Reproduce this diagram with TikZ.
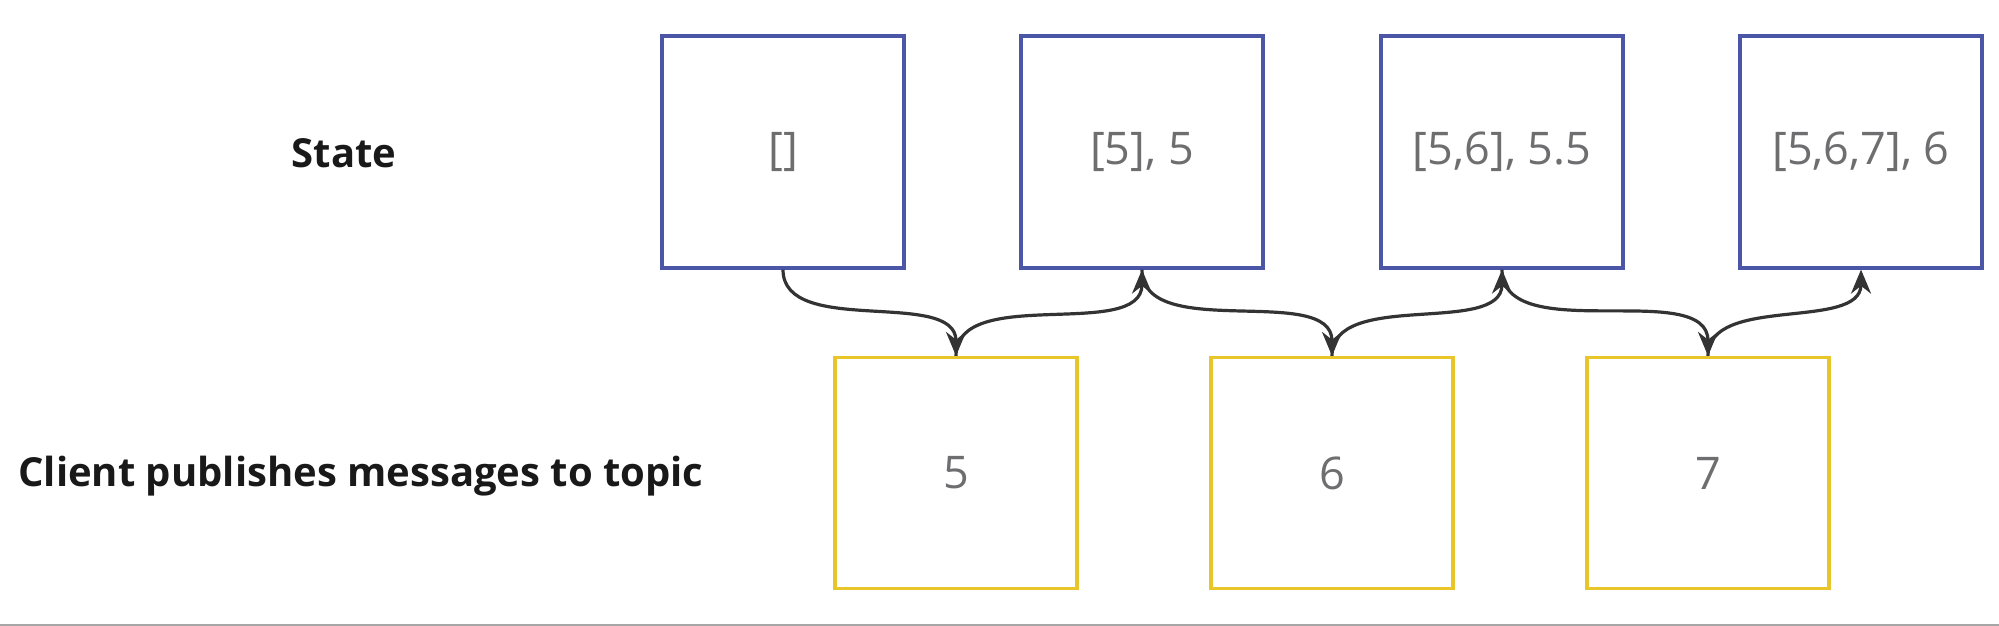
\documentclass[tikz,border=0pt]{standalone}
\usepackage{fontspec}
\setmainfont{Open Sans}
\usetikzlibrary{arrows.meta}
\definecolor{bluebox}{HTML}{4C56A6}
\definecolor{yelbox}{HTML}{E8C62A}
\definecolor{txt}{HTML}{6E6E70}
\definecolor{arr}{HTML}{333333}
\begin{document}
\begin{tikzpicture}[x=1pt,y=-1pt,
  sbox/.style={draw=bluebox,line width=3.2pt,minimum width=242pt,minimum height=232pt,inner sep=0pt,font=\fontsize{45}{52}\selectfont,text=txt},
  mbox/.style={draw=yelbox,line width=3.2pt,minimum width=242pt,minimum height=231pt,inner sep=0pt,font=\fontsize{45}{52}\selectfont,text=txt},
  lab/.style={font=\bfseries\fontsize{40}{46}\selectfont,text=black!90},
  conn/.style={draw=arr,line width=3.2pt,-{Stealth[length=24pt,width=20pt]},out=-90,in=90,looseness=0.9}]
\useasboundingbox (0,0) rectangle (1999,626);
\draw[black!35,line width=1.5pt] (0,625) -- (1999,625);
\node[lab] (state) at (344,153) {State};
\node[lab] (client) at (361,476) {Client publishes messages to topic};
\node[sbox] (s1) at (783,152) {[]};
\node[sbox] (s2) at (1142,152) {[5], 5};
\node[sbox] (s3) at (1502,152) {[5,6], 5.5};
\node[sbox] (s4) at (1861,152) {[5,6,7], 6};
\node[mbox] (m5) at (956,473) {5};
\node[mbox] (m6) at (1332,473) {6};
\node[mbox] (m7) at (1708,473) {7};
\draw[conn] (s1.south) to (m5.north);
\draw[conn,out=90,in=-90] (m5.north) to (s2.south);
\draw[conn] (s2.south) to (m6.north);
\draw[conn,out=90,in=-90] (m6.north) to (s3.south);
\draw[conn] (s3.south) to (m7.north);
\draw[conn,out=90,in=-90] (m7.north) to (s4.south);
\end{tikzpicture}
\end{document}
